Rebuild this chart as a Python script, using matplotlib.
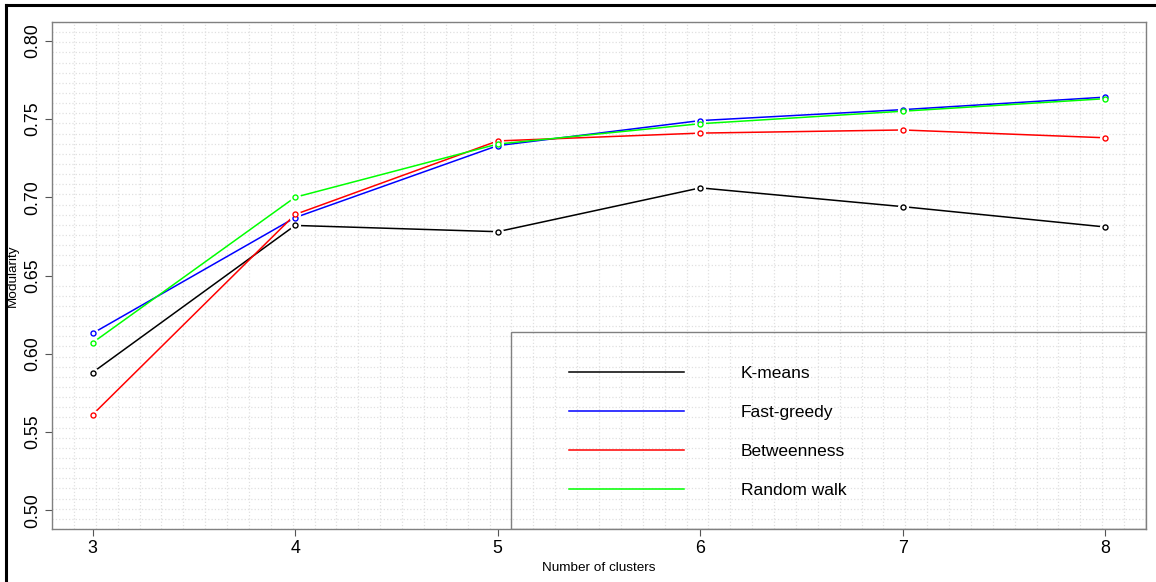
import numpy as np
import matplotlib
matplotlib.use('Agg')
import matplotlib.pyplot as plt
from matplotlib import rcParams
from matplotlib.lines import Line2D
from matplotlib.patches import Rectangle

rcParams['font.family'] = ['Liberation Sans', 'DejaVu Sans']
rcParams['font.size'] = 12.5

clusters = [3, 4, 5, 6, 7, 8]
kmeans = [0.588, 0.682, 0.678, 0.706, 0.694, 0.681]
fast_greedy = [0.613, 0.687, 0.733, 0.749, 0.756, 0.764]
betweenness = [0.561, 0.689, 0.736, 0.741, 0.743, 0.738]
random_walk = [0.607, 0.700, 0.734, 0.747, 0.755, 0.763]

series = [
    ('K-means', kmeans, '#000000'),
    ('Fast-greedy', fast_greedy, '#0000FF'),
    ('Betweenness', betweenness, '#FF0000'),
    ('Random walk', random_walk, '#00FF00'),
]

W, H = 1156, 582
fig = plt.figure(figsize=(W / 100, H / 100), dpi=100)
ax = fig.add_axes([52 / W, 1 - 529 / H, (1146 - 52) / W, (529 - 22) / H])

xlim = (2.8, 8.2)
ylim = (0.488, 0.812)
ax.set_xlim(*xlim)
ax.set_ylim(*ylim)

# fine background grid, 50 cells each way like the original
ax.set_xticks(np.linspace(*xlim, 51), minor=True)
ax.set_yticks(np.linspace(*ylim, 51), minor=True)
ax.grid(which='minor', color='#e0e0e0', linestyle=':', linewidth=0.9)
ax.tick_params(which='minor', length=0)
ax.set_axisbelow(True)

ax.set_xticks(clusters)
ax.set_yticks([0.50, 0.55, 0.60, 0.65, 0.70, 0.75, 0.80])
ax.set_yticklabels(['0.50', '0.55', '0.60', '0.65', '0.70', '0.75', '0.80'],
                   rotation=90, va='center')
ax.tick_params(which='major', length=5, width=0.8, color='#555555',
               labelsize=12.8, pad=3)

for sp in ax.spines.values():
    sp.set_color('#808080')
    sp.set_linewidth(1.0)

handles = []
for name, vals, col in series:
    ax.plot(clusters, vals, color=col, linewidth=1.1, zorder=3)
    ax.plot(clusters, vals, linestyle='none', marker='o', markersize=8,
            markerfacecolor='white', markeredgecolor='none', zorder=4)
    ax.plot(clusters, vals, linestyle='none', marker='o', markersize=3.6,
            markerfacecolor='white', markeredgecolor=col,
            markeredgewidth=1.0, zorder=5)
    handles.append(Line2D([], [], color=col, linewidth=1.1, label=name))

# legend box (transparent, grey border) and entries
box = Rectangle(((511 - 52) / 1094, 0), (1146 - 511) / 1094, (529 - 332) / 507,
                transform=ax.transAxes, facecolor='none', edgecolor='#808080',
                linewidth=1.0, zorder=6)
ax.add_patch(box)
leg = ax.legend(handles=handles, loc='upper left',
                bbox_to_anchor=((569 - 52) / 1094, (529 - 366) / 507),
                frameon=False, borderpad=0, borderaxespad=0,
                handlelength=6.6, handletextpad=3.3, labelspacing=1.37,
                fontsize=12.5)

ax.set_xlabel('Number of clusters', fontsize=9.7)
ax.set_ylabel('Modularity', fontsize=9.7)
ax.xaxis.set_label_coords(0.5, -0.066)
ax.yaxis.set_label_coords(-0.03, 0.5)

# black frame along top and left edges
fig.add_artist(Line2D([6 / W, 1], [1 - 5 / H, 1 - 5 / H], color='black',
                      linewidth=2.2, transform=fig.transFigure))
fig.add_artist(Line2D([6 / W, 6 / W], [0, 1 - 5 / H], color='black',
                      linewidth=2.2, transform=fig.transFigure))

fig.savefig('out.png', dpi=100, facecolor='white')
